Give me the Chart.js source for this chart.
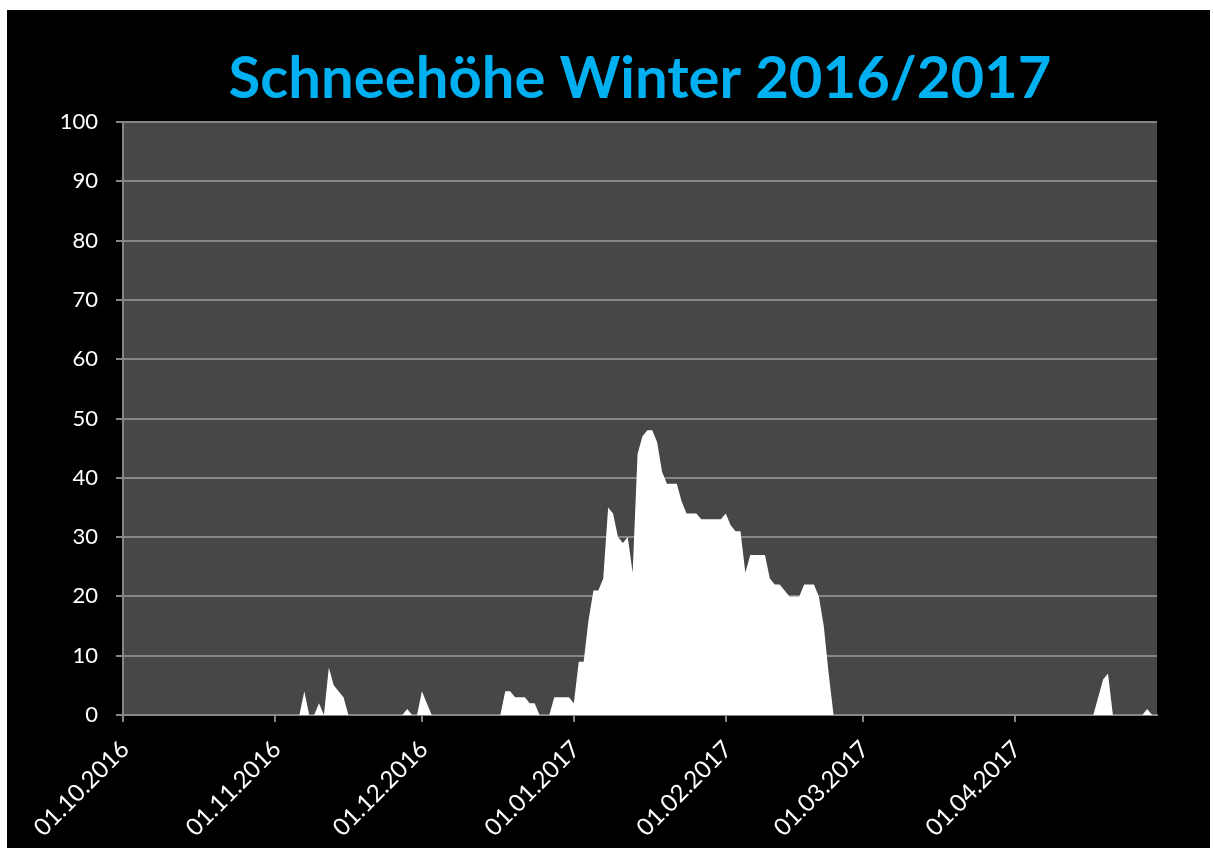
<!DOCTYPE html>
<html>
<head>
<meta charset="utf-8">
<script src="https://cdn.jsdelivr.net/npm/chart.js@4.4.1/dist/chart.umd.min.js"></script>
<style>
html,body{margin:0;padding:0;background:#fff;}
#c{display:block;}
</style>
</head>
<body>
<canvas id="c" width="1213" height="848"></canvas>
<script>
const chartTitle = 'Schneehöhe Winter 2016/2017';
// day index 0 = 01.10.2016 ... 211 = 30.04.2017
const tickDays = [0, 31, 61, 92, 123, 151, 182];
const tickLabels = ['01.10.2016','01.11.2016','01.12.2016','01.01.2017','01.02.2017','01.03.2017','01.04.2017'];
const yTicks = [0,10,20,30,40,50,60,70,80,90,100];
// snow depth (cm) per day
const snowDepth = [
  0,0,0,0,0,0,0,0,0,0, 0,0,0,0,0,0,0,0,0,0, 0,0,0,0,0,0,0,0,0,0, 0,      // Oct (0-30)
  0,0,0,0,0,0,4,0,0,2, 0,8,5,4,3,0,0,0,0,0, 0,0,0,0,0,0,0,1,0,0,          // Nov (31-60)
  4,2,0,0,0,0,0,0,0,0, 0,0,0,0,0,0,0,4,4,3, 3,3,2,2,0,0,0,3,3,3, 3,      // Dec (61-91)
  2,9,9,16,21,21,23,35,34,30, 29,30,24,44,47,48,48,46,41,39, 39,39,36,34,34,34,33,33,33,33, 33, // Jan (92-122)
  34,32,31,31,24,27,27,27,27,23, 22,22,21,20,20,20,22,22,22,20, 15,7,0,0,0,0,0,0,  // Feb (123-150)
  0,0,0,0,0,0,0,0,0,0, 0,0,0,0,0,0,0,0,0,0, 0,0,0,0,0,0,0,0,0,0, 0,      // Mar (151-181)
  0,0,0,0,0,0,0,0,0,0, 0,0,0,0,0,0,0,3,6,7, 0,0,0,0,0,0,0,1,0,0           // Apr (182-211)
];

const bgPlugin = {
  id: 'bg',
  beforeDraw(chart) {
    const ctx = chart.ctx, a = chart.chartArea;
    ctx.save();
    ctx.fillStyle = '#ffffff';
    ctx.fillRect(0, 0, chart.width, chart.height);
    ctx.fillStyle = '#000000';
    ctx.fillRect(7, 10, 1203, 838);
    ctx.fillStyle = '#474747';
    ctx.fillRect(a.left, a.top, a.right - a.left, a.bottom - a.top);
    ctx.restore();
  }
};

const gridCol = '#868686';
const tickFont = {family: 'Lato', size: 22};

new Chart(document.getElementById('c'), {
  type: 'line',
  data: {
    datasets: [{
      data: snowDepth.map((v, i) => ({x: i, y: v})),
      fill: 'origin',
      backgroundColor: '#ffffff',
      borderColor: '#ffffff',
      borderWidth: 0,
      pointRadius: 0,
      tension: 0
    }]
  },
  options: {
    responsive: false,
    animation: false,
    devicePixelRatio: 1,
    layout: {padding: {left: 7, right: 56, top: 10, bottom: 0}},
    plugins: {
      legend: {display: false},
      tooltip: {enabled: false},
      title: {
        display: true,
        fullSize: false,
        text: chartTitle,
        color: '#00B0F0',
        font: {family: 'Lato', size: 58, weight: 'bold', lineHeight: 1.2},
        padding: {top: 34, bottom: 8.4}
      }
    },
    scales: {
      x: {
        type: 'linear',
        min: 0,
        max: 211,
        z: 1,
        afterBuildTicks(scale) { scale.ticks = tickDays.map(v => ({value: v})); },
        afterFit(scale) { scale.height = 133; },
        grid: {drawOnChartArea: false, drawTicks: true, tickLength: 7, color: gridCol, lineWidth: 2},
        border: {color: gridCol, width: 2},
        ticks: {
          color: '#ffffff',
          font: {family: 'Lato', size: 24},
          autoSkip: false,
          maxRotation: 45,
          minRotation: 45,
          padding: 13,
          labelOffset: 2,
          callback: (v) => { const k = tickDays.indexOf(v); return k >= 0 ? tickLabels[k] : ''; }
        }
      },
      y: {
        min: 0,
        max: 100,
        afterBuildTicks(scale) { scale.ticks = yTicks.map(v => ({value: v})); },
        afterFit(scale) { scale.width = 116; },
        grid: {color: gridCol, lineWidth: 2, tickLength: 7},
        border: {color: gridCol, width: 2},
        ticks: {color: '#ffffff', font: tickFont, padding: 18}
      }
    }
  },
  plugins: [bgPlugin]
});
</script>
</body>
</html>
